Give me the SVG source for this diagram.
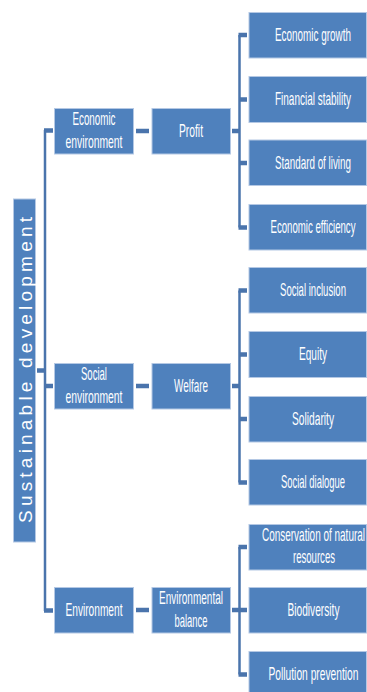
<svg xmlns="http://www.w3.org/2000/svg" width="367" height="692" viewBox="0 0 367 692">
<style>
.box{fill:#4F81BD;stroke:#B4C8E4;stroke-width:1}
.t{font-family:"Liberation Sans",Arial,sans-serif;font-size:18px;fill:#FFFFFF;text-anchor:middle}
.rt{font-family:"Liberation Sans",Arial,sans-serif;font-size:19px;fill:#FFFFFF;text-anchor:middle}
.ln{stroke:#4A74AC;stroke-width:2.5;fill:none}
.st{stroke:#4A74AC;stroke-width:4.5;fill:none}
</style>
<rect width="367" height="692" fill="#FFFFFF"/>
<g id="connectors">
  <path class="ln" d="M45 130 V611"/>
  <path class="st" d="M44 130.5 H53 M45 386 H53 M44 610.5 H53 M37 370.5 H45"/>
  <path class="st" d="M136 131 H149 M136 386 H149 M136 610 H149"/>
  <path class="ln" d="M239.5 35 V227.5 M239.5 290.5 V482.5 M239.5 547 V674.5"/>
  <path class="st" d="M232 131 H240 M232 386 H240 M232 610 H240"/>
  <path class="st" d="M238.5 35 H247 M239 99.5 H247 M239 163 H247 M238.5 227.5 H247"/>
  <path class="st" d="M238.5 290.5 H247 M239 354.5 H247 M239 419 H247 M238.5 482.5 H247"/>
  <path class="st" d="M238.5 547 H247 M239 610 H247 M238.5 674.5 H247"/>
</g>
<g id="root">
  <rect class="box" x="13.5" y="199" width="22" height="343"/>
  <text class="rt" transform="translate(32,370) rotate(-90)" x="0" y="0" textLength="306" lengthAdjust="spacing">Sustainable development</text>
</g>
<g id="economic-environment">
  <rect class="box" x="54.5" y="108.5" width="79" height="45.5"/>
  <g transform="scale(0.55,1)">
    <text class="t" x="170.91" y="125" textLength="78.18" lengthAdjust="spacingAndGlyphs">Economic</text>
    <text class="t" x="170.91" y="148.3" textLength="103.64" lengthAdjust="spacingAndGlyphs">environment</text>
  </g>
</g>
<g id="profit">
  <rect class="box" x="152" y="108.5" width="78.5" height="45.5"/>
  <text class="t" transform="scale(0.55,1)" x="347.27" y="137" textLength="43.64" lengthAdjust="spacingAndGlyphs">Profit</text>
</g>
<g id="social-environment">
  <rect class="box" x="54.5" y="363.5" width="79" height="45.5"/>
  <g transform="scale(0.55,1)">
    <text class="t" x="170.91" y="380" textLength="47.27" lengthAdjust="spacingAndGlyphs">Social</text>
    <text class="t" x="170.91" y="403" textLength="103.64" lengthAdjust="spacingAndGlyphs">environment</text>
  </g>
</g>
<g id="welfare">
  <rect class="box" x="152" y="363.5" width="78.5" height="45.5"/>
  <text class="t" transform="scale(0.55,1)" x="347.27" y="392" textLength="61.82" lengthAdjust="spacingAndGlyphs">Welfare</text>
</g>
<g id="environment">
  <rect class="box" x="54.5" y="587.5" width="79" height="45.5"/>
  <text class="t" transform="scale(0.55,1)" x="170.91" y="616" textLength="103.64" lengthAdjust="spacingAndGlyphs">Environment</text>
</g>
<g id="environmental-balance">
  <rect class="box" x="152" y="587.5" width="78.5" height="45.5"/>
  <g transform="scale(0.55,1)">
    <text class="t" x="347.27" y="604" textLength="116.36" lengthAdjust="spacingAndGlyphs">Environmental</text>
    <text class="t" x="347.27" y="627" textLength="60" lengthAdjust="spacingAndGlyphs">balance</text>
  </g>
</g>
<g id="economic-growth">
  <rect class="box" x="249" y="12.5" width="117.5" height="45.5"/>
  <text class="t" transform="scale(0.55,1)" x="569.09" y="41.5" textLength="138.18" lengthAdjust="spacingAndGlyphs">Economic growth</text>
</g>
<g id="financial-stability">
  <rect class="box" x="249" y="76.5" width="117.5" height="46"/>
  <text class="t" transform="scale(0.55,1)" x="569.09" y="105.5" textLength="138.18" lengthAdjust="spacingAndGlyphs">Financial stability</text>
</g>
<g id="standard-of-living">
  <rect class="box" x="249" y="140" width="117.5" height="45.5"/>
  <text class="t" transform="scale(0.55,1)" x="569.09" y="169" textLength="138.18" lengthAdjust="spacingAndGlyphs">Standard of living</text>
</g>
<g id="economic-efficiency">
  <rect class="box" x="249" y="204.5" width="117.5" height="45.5"/>
  <text class="t" transform="scale(0.55,1)" x="569.09" y="233.5" textLength="154.55" lengthAdjust="spacingAndGlyphs">Economic efficiency</text>
</g>
<g id="social-inclusion">
  <rect class="box" x="249" y="267.5" width="117.5" height="45.5"/>
  <text class="t" transform="scale(0.55,1)" x="569.09" y="296.5" textLength="120" lengthAdjust="spacingAndGlyphs">Social inclusion</text>
</g>
<g id="equity">
  <rect class="box" x="249" y="331.5" width="117.5" height="46"/>
  <text class="t" transform="scale(0.55,1)" x="569.09" y="360.5" textLength="50.91" lengthAdjust="spacingAndGlyphs">Equity</text>
</g>
<g id="solidarity">
  <rect class="box" x="249" y="396.5" width="117.5" height="45.5"/>
  <text class="t" transform="scale(0.55,1)" x="569.09" y="425" textLength="76.36" lengthAdjust="spacingAndGlyphs">Solidarity</text>
</g>
<g id="social-dialogue">
  <rect class="box" x="249" y="459.5" width="117.5" height="45.5"/>
  <text class="t" transform="scale(0.55,1)" x="569.09" y="488.5" textLength="116.36" lengthAdjust="spacingAndGlyphs">Social dialogue</text>
</g>
<g id="conservation">
  <rect class="box" x="249" y="524.5" width="117.5" height="45.5"/>
  <g transform="scale(0.55,1)">
    <text class="t" x="570" y="541.5" textLength="187.27" lengthAdjust="spacingAndGlyphs">Conservation of natural</text>
    <text class="t" x="570.91" y="563.5" textLength="76.36" lengthAdjust="spacingAndGlyphs">resources</text>
  </g>
</g>
<g id="biodiversity">
  <rect class="box" x="249" y="587.5" width="117.5" height="45.5"/>
  <text class="t" transform="scale(0.55,1)" x="570" y="616.5" textLength="94.55" lengthAdjust="spacingAndGlyphs">Biodiversity</text>
</g>
<g id="pollution-prevention">
  <rect class="box" x="249" y="651.5" width="117.5" height="46"/>
  <text class="t" transform="scale(0.55,1)" x="570" y="680.5" textLength="163.64" lengthAdjust="spacingAndGlyphs">Pollution prevention</text>
</g>
</svg>
